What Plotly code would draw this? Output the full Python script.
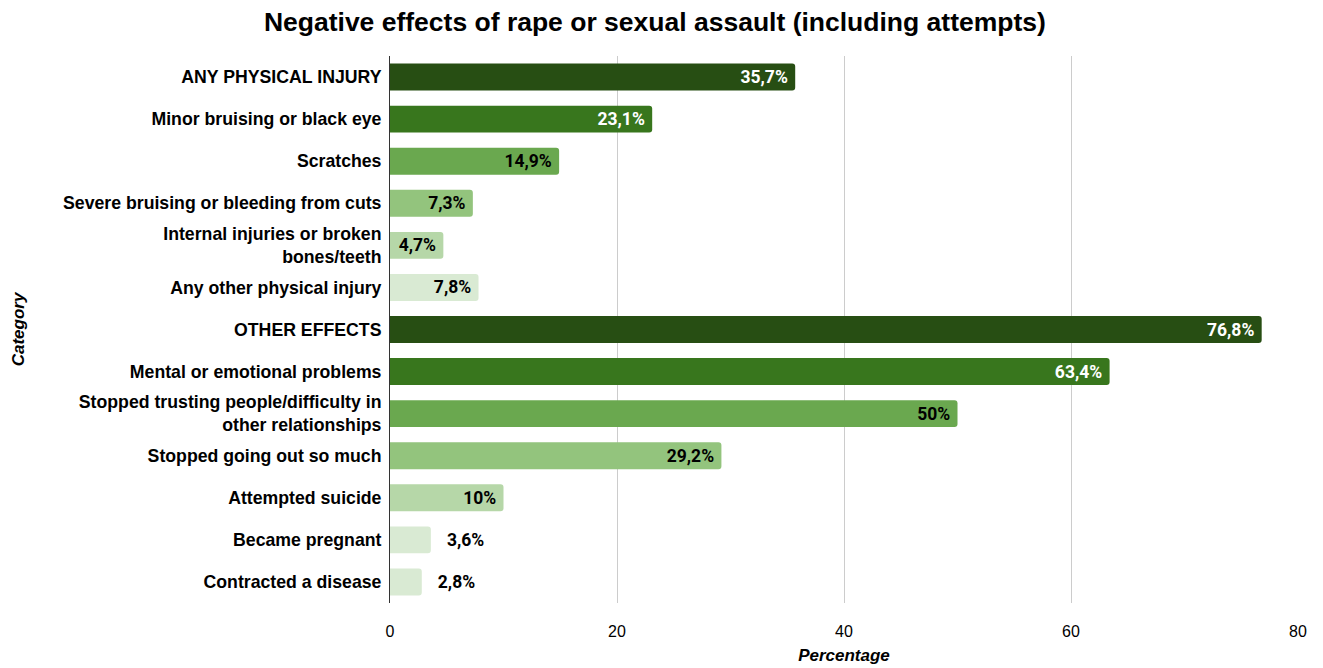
import plotly.graph_objects as go

categories = [
    "ANY PHYSICAL INJURY",
    "Minor bruising or black eye",
    "Scratches",
    "Severe bruising or bleeding from cuts",
    "Internal injuries or broken<br>bones/teeth",
    "Any other physical injury",
    "OTHER EFFECTS",
    "Mental or emotional problems",
    "Stopped trusting people/difficulty in<br>other relationships",
    "Stopped going out so much",
    "Attempted suicide",
    "Became pregnant",
    "Contracted a disease",
]
values = [35.7, 23.1, 14.9, 7.3, 4.7, 7.8, 76.8, 63.4, 50, 29.2, 10, 3.6, 2.8]
labels = ["35,7%", "23,1%", "14,9%", "7,3%", "4,7%", "7,8%", "76,8%", "63,4%", "50%", "29,2%", "10%", "3,6%", "2,8%"]

colors = ["#274e13", "#38761d", "#6aa84f", "#93c47d", "#b6d7a8", "#d9ead3",
          "#274e13", "#38761d", "#6aa84f", "#93c47d", "#b6d7a8", "#d9ead3", "#d9ead3"]
text_colors = ["#ffffff", "#ffffff", "#000000", "#000000", "#000000", "#000000",
               "#ffffff", "#ffffff", "#000000", "#000000", "#000000", "#000000", "#000000"]
text_pos = ["inside"] * 11 + ["outside"] * 2

# padding so labels sit a bit away from bar ends, like the reference
shown = [(t + "\u00a0") if p == "inside" else ("\u00a0\u00a0\u00a0" + t) for t, p in zip(labels, text_pos)]

fig = go.Figure(go.Bar(
    x=values,
    y=categories,
    orientation="h",
    marker=dict(color=colors, cornerradius=3, line=dict(width=0)),
    width=0.64,
    text=shown,
    textposition=text_pos,
    insidetextanchor="end",
    textfont=dict(family="Roboto, Liberation Sans, Arial", size=17.5, color=text_colors, weight="bold"),
    constraintext="none",
    cliponaxis=False,
))

fig.update_layout(
    width=1323, height=668,
    margin=dict(l=390, r=25, t=56, b=65),
    paper_bgcolor="white",
    plot_bgcolor="white",
    showlegend=False,
    title=dict(
        text="<b>Negative effects of rape or sexual assault (including attempts)</b>",
        x=0.495, xref="container", xanchor="center",
        y=0.967, yref="container", yanchor="middle",
        font=dict(family="Liberation Sans, Arial", size=26.5, color="#000000"),
    ),
    font=dict(family="Liberation Sans, Arial", color="#000000"),
)

fig.update_xaxes(
    range=[0, 80],
    tickvals=[0, 20, 40, 60, 80],
    ticktext=["0", "20", "40", "60", "80"],
    showgrid=True, gridcolor="#cccccc", gridwidth=1,
    zeroline=False,
    showline=False,
    automargin=False,
    tickfont=dict(family="Liberation Sans, Arial", size=16, color="#000000"),
    ticklabelstandoff=17,
    title=dict(text="<b><i>Percentage</i></b>", font=dict(family="Liberation Sans, Arial", size=17, color="#000000"), standoff=10),
)

fig.update_yaxes(
    autorange="reversed",
    showline=True, linecolor="#333333", linewidth=1,
    showgrid=False,
    ticks="",
    automargin=False,
    tickfont=dict(family="Liberation Sans, Arial", size=17.7, color="#000000", weight="bold"),
    ticklabelstandoff=4,
    title=dict(text="<b><i>Category</i></b>", font=dict(family="Liberation Sans, Arial", size=17, color="#000000"), standoff=34),
)

fig.write_html("out.html")
